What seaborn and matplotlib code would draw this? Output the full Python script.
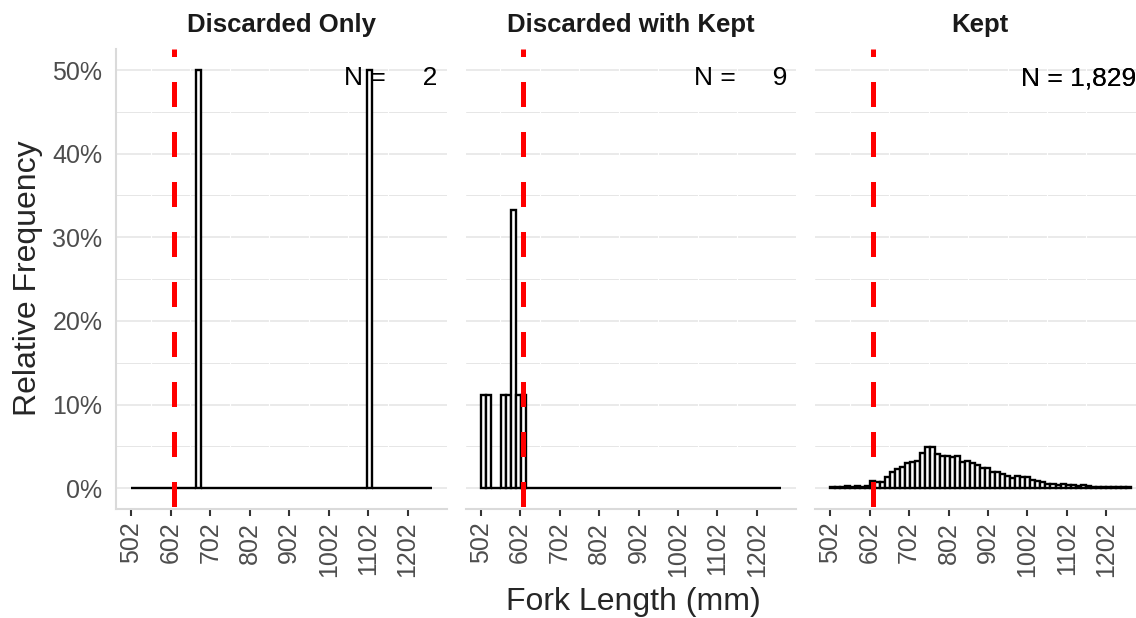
import numpy as np
import pandas as pd
import matplotlib
matplotlib.use("Agg")
import matplotlib.pyplot as plt
from matplotlib.ticker import FuncFormatter
import seaborn as sns

# ---------------- data ----------------
panel_titles = ["Discarded Only", "Discarded with Kept", "Kept"]
panel_n = [2, 9, 1829]

bin_start = 501.65      # mm (19.75 in)
bin_width = 12.7        # mm (0.5 in)
n_bins = 60
legal_size = 609.6      # mm (24 in)
x_tick_values = [502, 602, 702, 802, 902, 1002, 1102, 1202]
y_tick_values = [0, 10, 20, 30, 40, 50]

# relative frequency (%) per bin, keyed by bin index
discarded_only = {13: 50.0, 47: 50.0}
discarded_with_kept = {0: 11.1, 1: 11.1, 4: 11.1, 5: 11.1, 6: 33.3, 7: 11.1, 8: 11.1}
kept = [0.1, 0.2, 0.2, 0.3, 0.2, 0.3, 0.2, 0.3, 0.9, 0.7,
        0.8, 1.4, 1.9, 2.3, 2.5, 3.0, 3.1, 3.3, 4.2, 4.9,
        4.9, 4.1, 3.8, 3.9, 3.7, 3.9, 3.1, 3.3, 3.0, 2.8,
        2.4, 2.4, 1.9, 1.9, 1.7, 1.5, 1.2, 1.5, 1.3, 1.3,
        1.0, 0.9, 0.7, 0.5, 0.5, 0.4, 0.5, 0.4, 0.4, 0.3,
        0.4, 0.3, 0.2, 0.1, 0.1, 0.1, 0.1, 0.2, 0.1, 0.1]

bin_end = bin_start + bin_width * n_bins
centers = bin_start + bin_width * (np.arange(n_bins) + 0.5)


def dense(d):
    v = np.zeros(n_bins)
    for k, p in d.items():
        v[k] = p
    return v


panel_values = [dense(discarded_only), dense(discarded_with_kept), np.array(kept)]

# ---------------- style ----------------
sns.set_style("white")
plt.rcParams["font.family"] = ["Liberation Sans", "DejaVu Sans"]

W, H = 1136, 618
fig = plt.figure(figsize=(W / 100, H / 100), dpi=100)

panel_left0 = 116.2
panel_w = 330.7
panel_step = 349.4
panel_top = 49.1
panel_bottom = 509.2

x_lo, x_hi = 463.55, 1301.75
grid_col = "#E6E6E6"
axis_col = "#DADADA"
tick_col = "#333333"
lab_col = "#4D4D4D"

for i, (title, n, vals) in enumerate(zip(panel_titles, panel_n, panel_values)):
    left = panel_left0 + i * panel_step
    ax = fig.add_axes([left / W, (H - panel_bottom) / H, panel_w / W,
                       (panel_bottom - panel_top) / H])
    ax.set_facecolor("white")

    # grid
    for yv in np.arange(0, 51, 10):
        ax.axhline(yv, color=grid_col, lw=1.2, zorder=0)
    for yv in np.arange(5, 50, 10):
        ax.axhline(yv, color=grid_col, lw=0.7, zorder=0)
    for xv in np.array(x_tick_values[:-1]) + 50 - 0.35:
        ax.axvline(xv, color="white", lw=0.8, zorder=0.5)

    df = pd.DataFrame({"length": centers, "pct": vals})
    sns.histplot(data=df, x="length", weights="pct", bins=n_bins,
                 binrange=(bin_start, bin_end), ax=ax,
                 stat="count", color="white", edgecolor="black",
                 linewidth=1.7, alpha=1.0, zorder=2)

    ax.axvline(legal_size, color="#FF0000", lw=3.6,
               linestyle=(9.5, (5, 5)), zorder=3)

    ax.set_xlim(x_lo, x_hi)
    ax.set_ylim(-2.5, 52.5)
    ax.set_xticks(x_tick_values)
    ax.set_xticklabels([str(v) for v in x_tick_values], rotation=90,
                       fontsize=18, color=lab_col)
    ax.set_yticks(y_tick_values)
    if i == 0:
        ax.yaxis.set_major_formatter(FuncFormatter(lambda v, p: f"{v:.0f}%"))
        ax.tick_params(axis="y", labelsize=18, labelcolor=lab_col,
                       length=5, width=1.5, color=tick_col, pad=5)
    else:
        ax.tick_params(axis="y", left=False, labelleft=False)
    ax.tick_params(axis="x", length=5, width=1.5, color=tick_col, pad=4,
                   bottom=True)
    ax.set_xlabel("")
    ax.set_ylabel("")

    for s in ["top", "right"]:
        ax.spines[s].set_visible(False)
    ax.spines["bottom"].set_color(axis_col)
    ax.spines["bottom"].set_linewidth(1.5)
    if i == 0:
        ax.spines["left"].set_color(axis_col)
        ax.spines["left"].set_linewidth(1.5)
    else:
        ax.spines["left"].set_visible(False)

    ax.text(0.5, 1.052, title, transform=ax.transAxes, ha="center",
            va="center", fontsize=18.5, fontweight="bold", color="#1A1A1A")
    # the label is drawn once per observation in the original -> heavier for big n
    for _ in range(1 if n < 100 else 2):
        ax.text(0.972, 0.937, f"N = {n:>5,}", transform=ax.transAxes,
                ha="right", va="center", fontsize=19, color="black",
                zorder=5)

fig.text(28 / W, 1 - 278 / H, "Relative Frequency", rotation=90,
         ha="center", va="center", fontsize=23)
fig.text(633 / W, 1 - 602 / H, "Fork Length (mm)", ha="center",
         va="center", fontsize=23)

fig.savefig("out.png", dpi=100, facecolor="white")
